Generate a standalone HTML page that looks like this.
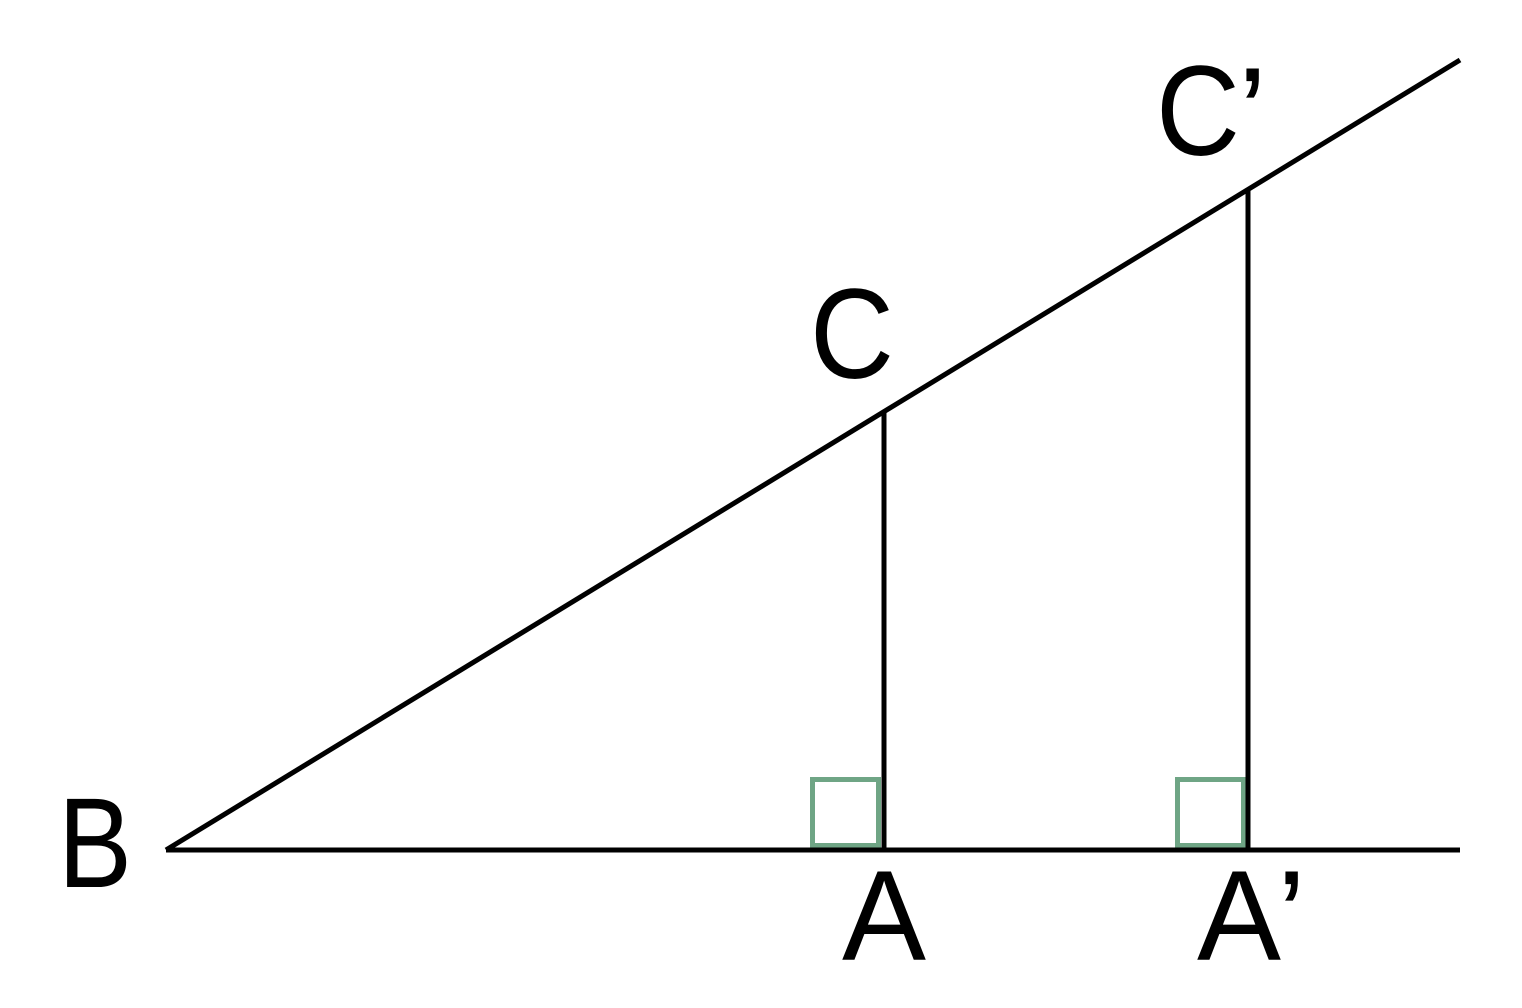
<!DOCTYPE html>
<html><head><meta charset="utf-8"><style>
html,body{margin:0;padding:0;background:#fff;}
svg{display:block;}
</style></head><body>
<svg width="1522" height="1008" viewBox="0 0 1522 1008" xmlns="http://www.w3.org/2000/svg">
<rect width="1522" height="1008" fill="#fff"/>
<g fill="none" stroke="#6fa585" stroke-width="5">
<rect x="812.5" y="779.5" width="66" height="66"/>
<rect x="1177.5" y="779.5" width="66" height="66"/>
</g>
<g stroke="#000" stroke-width="5" fill="none">
<line x1="166" y1="850" x2="1460" y2="850"/>
<line x1="166" y1="850" x2="1460" y2="60"/>
<line x1="884" y1="412" x2="884" y2="850"/>
<line x1="1248" y1="188" x2="1248" y2="850"/>
</g>
<g font-family="Liberation Sans, sans-serif" font-size="128" fill="#000">
<text x="58" y="887" textLength="74" lengthAdjust="spacingAndGlyphs">B</text>
<text x="810" y="378" textLength="84" lengthAdjust="spacingAndGlyphs">C</text>
<text x="1156" y="155" textLength="84" lengthAdjust="spacingAndGlyphs">C</text>
<text x="1238" y="158" font-size="130">’</text>
<text x="842" y="960" textLength="84" lengthAdjust="spacingAndGlyphs">A</text>
<text x="1197" y="960" textLength="84" lengthAdjust="spacingAndGlyphs">A</text>
<text x="1277" y="961" font-size="130">’</text>
</g>
</svg>
</body></html>
